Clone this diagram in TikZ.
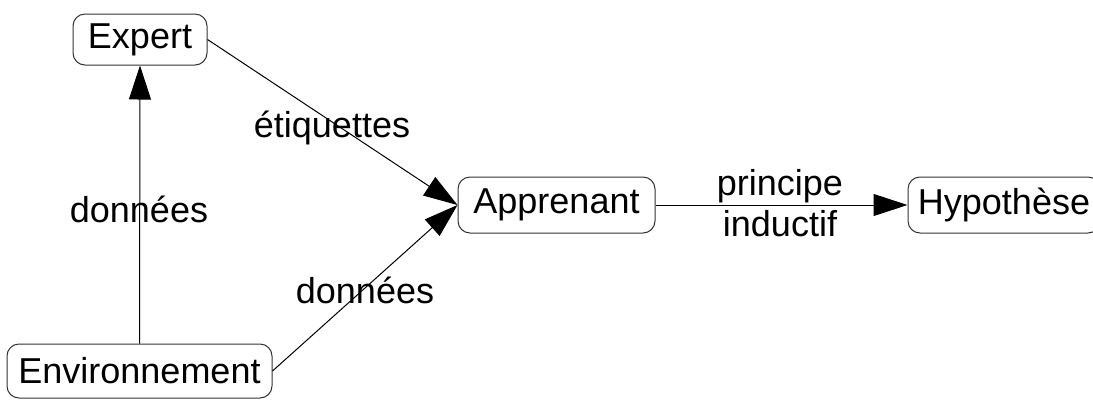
\documentclass[tikz,border=0pt]{standalone}
\usepackage{fontspec}
\setmainfont{Liberation Sans}
\usetikzlibrary{arrows.meta}
\begin{document}
\begin{tikzpicture}[x=1pt,y=-1pt,
  box/.style={draw=black!80, line width=1pt, rounded corners=12pt, inner sep=0pt,
    font=\fontsize{36}{43}\selectfont},
  lbl/.style={font=\fontsize{36}{43}\selectfont, anchor=base, inner sep=0pt},
  conn/.style={line width=1pt, -{Triangle[length=34pt,width=22pt]}}]
\useasboundingbox (0,0) rectangle (1093,400);
\node[box, minimum width=134pt, minimum height=51pt] (expert) at (140,39.5) {Expert};
\node[box, minimum width=265pt, minimum height=54pt] (env) at (139.5,371) {Environnement};
\node[box, minimum width=197pt, minimum height=56pt] (app) at (556.5,205) {Apprenant};
\node[box, minimum width=192pt, minimum height=56pt] (hyp) at (1004,205) {Hypothèse};
\draw[conn] (env.north) -- (expert.south);
\draw[conn] (expert.east) -- (app.west);
\draw[conn] (env.east) -- (app.west);
\draw[conn] (app.east) -- (hyp.west);
\node[lbl] (l1) at (332,137) {étiquettes};
\node[lbl] (l2) at (139,222) {données};
\node[lbl] (l3) at (365,303) {données};
\node[lbl] (l4) at (780,195) {principe};
\node[lbl] (l5) at (780,236) {inductif};
\end{tikzpicture}
\end{document}
